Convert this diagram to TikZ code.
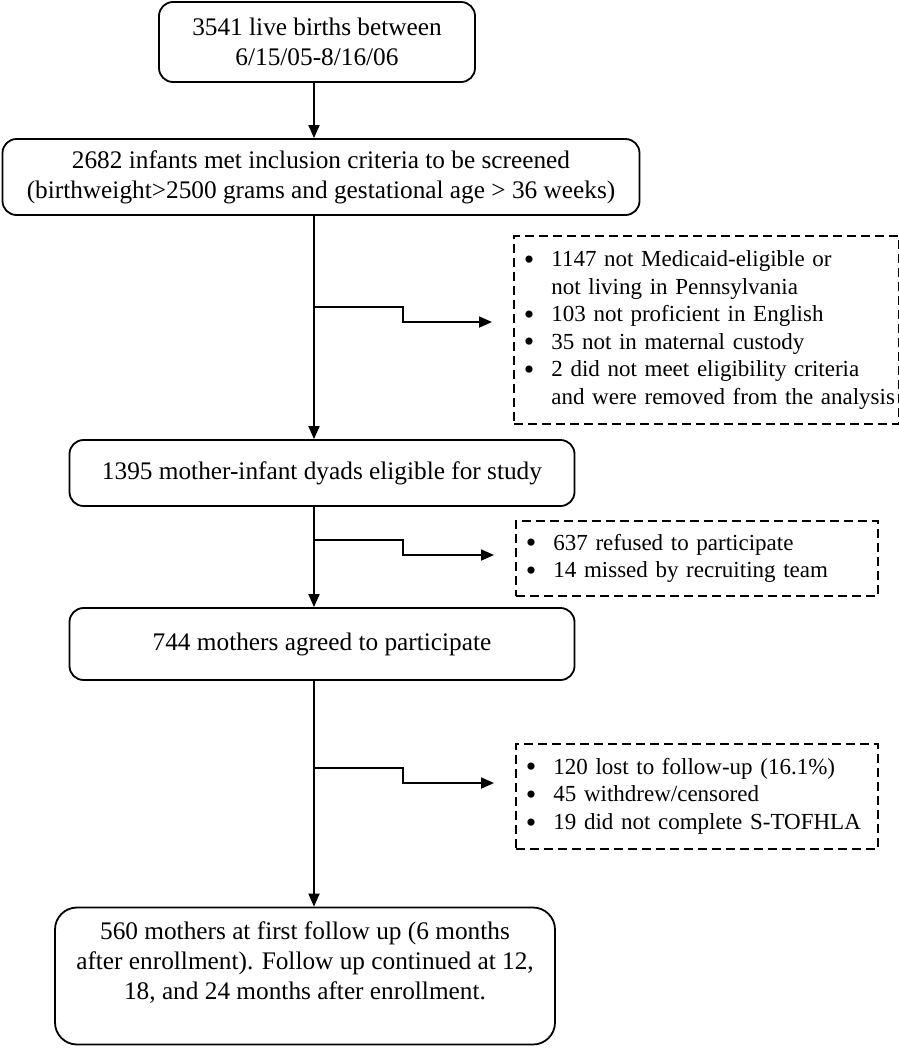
\documentclass[tikz,border=0pt]{standalone}
\usepackage{fontspec}
\setmainfont{Liberation Serif}
\usetikzlibrary{arrows.meta}
\newcommand{\bul}{\raisebox{-2.6pt}{\scalebox{1.3}{\textbullet}}}

\begin{document}
\begin{tikzpicture}[x=1pt, y=-1pt, >={Triangle[length=13pt,width=11pt]},
    box/.style={draw, line width=1.8pt, rounded corners=14pt, align=center, inner sep=0pt,
        font=\fontsize{25.3}{30}\selectfont},
    dbox/.style={draw, line width=1.8pt, dash pattern=on 9pt off 5pt, inner xsep=10pt, inner ysep=0pt,
        anchor=north west, font=\fontsize{23}{27.6}\selectfont},
    link/.style={line width=1.8pt}]
    \useasboundingbox (0,0) rectangle (899,1050);

    \coordinate (sp) at (314,0);

    \node[box, minimum width=316pt, minimum height=80pt] (births) at (317,42)
        {3541 live births between\\6/15/05-8/16/06};
    \node[box, minimum width=637pt, minimum height=76pt] (screened) at (321,177)
        {2682 infants met inclusion criteria to be screened\\(birthweight>2500 grams and gestational age > 36 weeks)};
    \node[box, minimum width=505pt, minimum height=66pt] (eligible) at (322,473)
        {1395 mother-infant dyads eligible for study};
    \node[box, minimum width=505pt, minimum height=72pt] (agreed) at (322,644)
        {744 mothers agreed to participate};
    \node[box, rounded corners=22pt, minimum width=500pt, minimum height=137pt] (followup) at (305,976)
        {560 mothers at first follow up (6 months\\after enrollment). Follow up continued at 12,\\18, and 24 months after enrollment.\\\mbox{}};

    \node[dbox, text width=365pt, minimum height=188pt] (excl1) at (513,235) {%
        \begin{tabular}{@{}l@{\hspace{17pt}}l@{}}
        \bul & 1147 not Medicaid-eligible or\\
             & not living in Pennsylvania\\
        \bul & 103 not proficient in English\\
        \bul & 35 not in maternal custody\\
        \bul & 2 did not meet eligibility criteria\\
             & and were removed from the analysis
        \end{tabular}};
    \node[dbox, text width=342pt, minimum height=75pt] (excl2) at (515,520) {%
        \begin{tabular}{@{}l@{\hspace{17pt}}l@{}}
        \bul & 637 refused to participate\\
        \bul & 14 missed by recruiting team
        \end{tabular}};
    \node[dbox, text width=342pt, minimum height=105pt] (excl3) at (515,743) {%
        \begin{tabular}{@{}l@{\hspace{17pt}}l@{}}
        \bul & 120 lost to follow-up (16.1\%)\\
        \bul & 45 withdrew/censored\\
        \bul & 19 did not complete S-TOFHLA
        \end{tabular}};

    % main line
    \draw[link, ->] (births.south -| sp) -- (screened.north -| sp);
    \draw[link, ->] (screened.south -| sp) -- (eligible.north -| sp);
    \draw[link, ->] (eligible.south -| sp) -- (agreed.north -| sp);
    \draw[link, ->] (agreed.south -| sp) -- (followup.north -| sp);

    % exclusions
    \foreach \n/\y in {excl1/307, excl2/540, excl3/768} {
        \draw[link, ->, shorten >=21pt] (sp |- 0,\y) -- (403,\y) -- (403,\y+15) -- (\n.west |- 0,\y+15);
    }
\end{tikzpicture}
\end{document}
